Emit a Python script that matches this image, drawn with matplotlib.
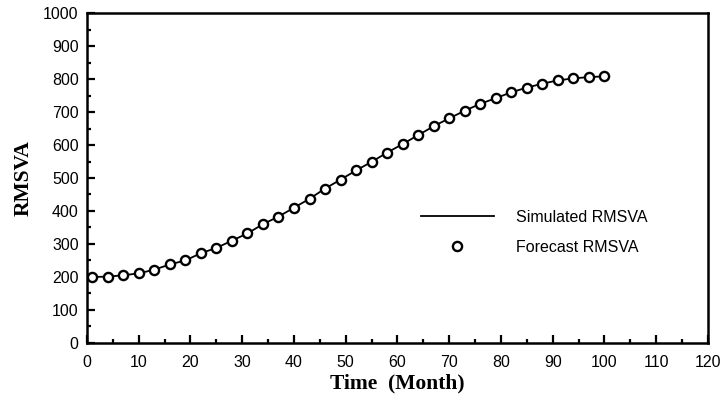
import numpy as np
import matplotlib
matplotlib.use("Agg")
import matplotlib.pyplot as plt
from matplotlib.ticker import MultipleLocator

plt.rcParams['font.family'] = ['Liberation Sans', 'DejaVu Sans']

## data
months = [1, 4, 7, 10, 13, 16, 19, 22, 25, 28, 31, 34, 37, 40, 43, 46, 49,
          52, 55, 58, 61, 64, 67, 70, 73, 76, 79, 82, 85, 88, 91, 94, 97, 100]
simulated = [200, 201, 205, 211, 222, 238, 250, 272, 288, 310, 332, 360, 383,
             410, 437, 468, 495, 523, 549, 577, 603, 630, 657, 681, 704, 725,
             742, 760, 774, 786, 796, 802, 806, 808]
forecast = [200, 201, 205, 211, 222, 238, 250, 272, 288, 310, 332, 360, 383,
            410, 437, 468, 495, 523, 549, 577, 603, 630, 657, 681, 704, 725,
            742, 760, 774, 786, 796, 802, 806, 808]

fig = plt.figure(figsize=(7.22, 3.96), dpi=100)
ax = fig.add_axes([0.1205, 0.134, 0.8601, 0.833])

ax.plot(months, simulated, color='black', lw=1.3, label='Simulated RMSVA')
ax.plot(months, forecast, ls='none', marker='o', ms=6.6, mfc='white',
        mec='black', mew=1.7, label='Forecast RMSVA')

ax.set_xlim(0, 120)
ax.set_ylim(0, 1000)
ax.xaxis.set_major_locator(MultipleLocator(10))
ax.xaxis.set_minor_locator(MultipleLocator(5))
ax.yaxis.set_major_locator(MultipleLocator(100))
ax.yaxis.set_minor_locator(MultipleLocator(50))
ax.tick_params(which='both', direction='in', top=False, right=False,
               width=1.6)
ax.tick_params(which='major', length=6)
ax.tick_params(which='minor', length=3)
ax.tick_params(axis='y', pad=6, labelsize=11.5)
ax.tick_params(axis='x', pad=9, labelsize=11.5)
for s in ax.spines.values():
    s.set_linewidth(1.8)

ax.set_xlabel('Time  (Month)', family='Liberation Serif', fontweight='bold',
              fontsize=15.5, labelpad=2)
ax.set_ylabel('RMSVA', family='Liberation Serif', fontweight='bold',
              fontsize=15.5, labelpad=7)

ax.legend(loc='center left', bbox_to_anchor=(0.514, 0.335), frameon=False,
          fontsize=11.5, handlelength=4.6, labelspacing=0.95,
          handletextpad=1.35)

fig.savefig('out.png', dpi=100)
